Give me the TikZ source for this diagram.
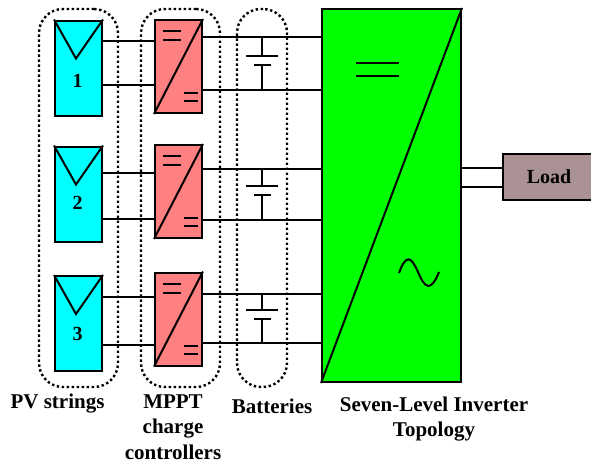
\documentclass[tikz,border=0pt]{standalone}
\usepackage{fontspec}
\setmainfont{Liberation Serif}
\usetikzlibrary{calc}
\usetikzlibrary{positioning}
\definecolor{pvcolor}{RGB}{0,255,255}
\definecolor{mpptcolor}{RGB}{255,128,128}
\definecolor{invcolor}{RGB}{0,255,0}
\definecolor{loadcolor}{RGB}{170,145,148}
\begin{document}
\begin{tikzpicture}[x=1pt,y=-1pt,box/.style={rectangle, draw, line width=2pt, inner sep=0pt, minimum width=#1},
    wire/.style={line width=2pt},
    label/.style={align=center, font=\fontsize{21}{25.5}\selectfont\bfseries}]
    \tikzset{group/.style={draw, dash pattern=on 2.4pt off 2.6pt, line width=2.4pt, rounded corners=24pt, inner sep=0pt, minimum height=378pt}}
    \useasboundingbox (0,0) rectangle (591,463);

    \node[box=139pt, fill=invcolor, minimum height=373pt] (inv) at (391.5,195.5) {};
    \draw[wire] (inv.south west) -- (inv.north east);
    \node[box=92pt, fill=loadcolor, minimum height=46pt, font=\fontsize{20}{24}\selectfont\bfseries] (load) at (549,177) {Load};
    \draw[wire] (inv.east |- 0,168) -- (load.west |- 0,168);
    \draw[wire] (inv.east |- 0,187) -- (load.west |- 0,187);

    % one row: string, controller, battery
    \foreach \s/\pvy/\cy/\pa/\pb/\ca/\cb/\bat/\lab in {1/68/66.5/41/85/37/90/56/81, 2/194/191.5/173/219/169/220/186/203, 3/323.5/319/297/345/294/343/310/334} {
    \node[box=47pt, fill=pvcolor, minimum height=95pt] (pv\s) at (78.5,\pvy) {};
    \node[box=47pt, fill=mpptcolor, minimum height=93pt] (mppt\s) at (178.5,\cy) {};
    \node[font=\fontsize{20}{24}\selectfont\bfseries, inner sep=0pt] (num\s) at (77.5,\lab) {\s};
    \coordinate (tip\s) at ($(pv\s.north)+(-2.5,39)$);
    \draw[wire] (pv\s.north west) -- (tip\s) -- (pv\s.north east);
    \draw[wire] (mppt\s.south west) -- (mppt\s.north east);
    % dc signs on the controller
    \draw[wire] ($(mppt\s.north west)+(9,12)$) -- +(18,0);
    \draw[wire] ($(mppt\s.north west)+(9,21)$) -- +(18,0);
    \draw[wire] ($(mppt\s.south east)+(-19,-21)$) -- +(14,0);
    \draw[wire] ($(mppt\s.south east)+(-19,-13)$) -- +(14,0);
    \draw[wire] (pv\s.east |- 0,\pa) -- (mppt\s.west |- 0,\pa);
    \draw[wire] (pv\s.east |- 0,\pb) -- (mppt\s.west |- 0,\pb);
    \draw[wire] (mppt\s.east |- 0,\ca) -- (inv.west |- 0,\ca);
    \draw[wire] (mppt\s.east |- 0,\cb) -- (inv.west |- 0,\cb);
    % battery plates
    \coordinate (plus\s) at (262,\bat);
    \coordinate (minus\s) at (262,\bat+9);
    \draw[wire] (262,\ca) -- (plus\s);
    \draw[wire] (minus\s) -- (262,\cb);
    \draw[wire] ($(plus\s)+(-16,0)$) -- ($(plus\s)+(16,0)$);
    \draw[wire] ($(minus\s)+(-8.5,0)$) -- ($(minus\s)+(8.5,0)$);
    }

    \node[group, minimum width=79pt] (pvgroup) at (78.5,198) {};
    \node[group, minimum width=79pt] (mpptgroup) at (180.5,198) {};
    \node[group, minimum width=50pt] (batgroup) at (262,198) {};

    % signs on the inverter
    \draw[wire] (356,63) -- (399,63);
    \draw[wire] (356,76) -- (399,76);
    \draw[wire] (399,273) .. controls (406,254) and (411,256) .. (418,272) .. controls (425,289) and (431,292) .. (439,272);

    \node[label] (pvtext) at (57.5,404) {PV strings};
    \node[label, anchor=north] (mppttext) at (173,391) {MPPT\\charge\\controllers};
    \node[label] (battext) at (272,406) {Batteries};
    \node[label, anchor=north] (invtext) at (434,393) {Seven-Level Inverter\\Topology};
\end{tikzpicture}
\end{document}
